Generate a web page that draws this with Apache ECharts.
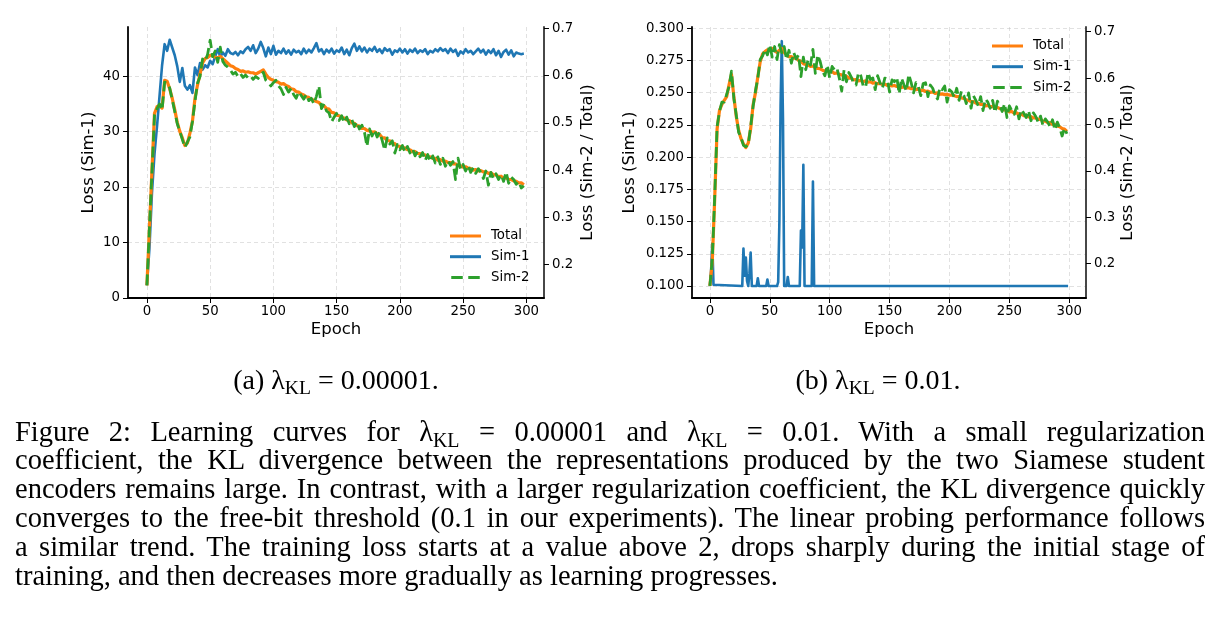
<!DOCTYPE html>
<html><head><meta charset="utf-8">
<script src="https://cdn.jsdelivr.net/npm/echarts@6/dist/echarts.min.js"></script>
<style>
html,body{margin:0;padding:0;background:#fff;}
#wrap{position:relative;width:1220px;height:626px;overflow:hidden;background:#fff;}
#chart{position:absolute;left:0;top:0;width:1220px;height:626px;}
.cap{position:absolute;font-family:'Liberation Serif','Times New Roman',serif;color:#000;}
.subcap{font-size:28px;line-height:28px;top:366px;white-space:nowrap;transform:translateX(-50%);}
#para{left:15px;top:417.6px;width:1190px;font-size:28.5px;line-height:28.8px;}
#para div{text-align:justify;text-align-last:justify;white-space:nowrap;height:28.8px;}
#para div.last{text-align-last:left;}
.kl{font-size:70%;vertical-align:-0.28em;line-height:0;}
</style></head>
<body>
<div id="wrap">
<div id="chart"></div>
<div class="cap subcap" style="left:336px">(a) λ<span class="kl">KL</span> = 0.00001.</div>
<div class="cap subcap" style="left:878px">(b) λ<span class="kl">KL</span> = 0.01.</div>
<div class="cap" id="para">
<div>Figure 2: Learning curves for λ<span class="kl">KL</span> = 0.00001 and λ<span class="kl">KL</span> = 0.01. With a small regularization</div>
<div>coefficient, the KL divergence between the representations produced by the two Siamese student</div>
<div>encoders remains large. In contrast, with a larger regularization coefficient, the KL divergence quickly</div>
<div>converges to the free-bit threshold (0.1 in our experiments). The linear probing performance follows</div>
<div>a similar trend. The training loss starts at a value above 2, drops sharply during the initial stage of</div>
<div class="last">training, and then decreases more gradually as learning progresses.</div>
</div>
</div>
<script>
// ---------- data ----------
const epochs = [0,2,4,6,8,10,12,14,16,18,
20,22,24,26,28,30,32,34,36,38,
40,42,44,46,48,50,52,54,56,58,
60,62,64,66,68,70,72,74,76,78,
80,82,84,86,88,90,92,94,96,98,
100,102,104,106,108,110,112,114,116,118,
120,122,124,126,128,130,132,134,136,138,
140,142,144,146,148,150,152,154,156,158,
160,162,164,166,168,170,172,174,176,178,
180,182,184,186,188,190,192,194,196,198,
200,202,204,206,208,210,212,214,216,218,
220,222,224,226,228,230,232,234,236,238,
240,242,244,246,248,250,252,254,256,258,
260,262,264,266,268,270,272,274,276,278,
280,282,284,286,288,290,292,294,296,298];

// (a) lambda_KL = 0.00001
const sim1A = [2.3,9.0,19.0,26.0,31.0,36.5,42.0,45.8,44.6,46.6,
45.2,43.8,41.8,39.0,41.5,38.3,37.6,38.4,37.0,41.6,
40.2,42.4,41.2,42.0,41.6,42.8,42.2,43.6,44.9,43.5,
44.3,43.7,44.9,44.2,44.0,44.4,43.8,44.5,44.2,44.9,
45.3,44.6,45.6,44.2,45.0,46.2,45.1,43.6,45.2,44.0,
45.5,43.9,44.6,44.2,45.0,44.1,44.7,43.9,44.8,44.3,
44.6,44.0,45.0,44.2,44.8,44.3,45.1,46.0,44.5,44.9,
44.0,44.8,44.3,45.0,44.1,44.7,44.4,45.2,44.0,44.8,
43.8,45.1,45.9,44.6,45.4,44.5,45.2,44.3,45.0,44.6,
45.3,44.4,44.9,44.2,45.1,44.6,44.9,43.9,44.7,44.4,
45.0,44.3,44.9,44.1,44.8,44.4,45.0,44.2,44.7,44.4,
44.9,44.0,44.6,44.3,44.9,44.5,45.1,44.6,44.9,44.2,
45.0,44.4,44.8,43.7,44.5,44.1,44.9,44.3,44.6,44.0,
44.5,45.0,44.3,44.8,43.9,44.7,44.2,44.9,43.8,44.6,
43.5,44.4,44.8,43.9,44.7,43.6,44.3,44.1,44.0,44.1];
const totalA = [0.156,0.277,0.400,0.520,0.534,0.537,0.531,0.590,0.588,0.572,
0.552,0.528,0.501,0.482,0.468,0.452,0.457,0.478,0.503,0.552,
0.580,0.603,0.627,0.636,0.638,0.643,0.642,0.639,0.637,0.641,
0.636,0.631,0.626,0.621,0.619,0.615,0.613,0.609,0.610,0.607,
0.608,0.606,0.606,0.603,0.606,0.609,0.612,0.603,0.596,0.592,
0.590,0.587,0.586,0.582,0.583,0.579,0.577,0.572,0.571,0.566,
0.565,0.561,0.559,0.555,0.554,0.549,0.548,0.545,0.543,0.537,
0.536,0.530,0.529,0.522,0.521,0.516,0.515,0.511,0.510,0.506,
0.505,0.500,0.499,0.494,0.493,0.488,0.488,0.484,0.483,0.480,
0.481,0.477,0.475,0.469,0.468,0.462,0.462,0.457,0.456,0.451,
0.450,0.446,0.447,0.443,0.443,0.439,0.439,0.435,0.435,0.432,
0.432,0.428,0.428,0.425,0.425,0.421,0.422,0.419,0.419,0.416,
0.416,0.413,0.413,0.410,0.409,0.406,0.407,0.404,0.403,0.400,
0.401,0.398,0.399,0.396,0.396,0.393,0.394,0.390,0.390,0.386,
0.387,0.383,0.384,0.380,0.380,0.377,0.376,0.373,0.373,0.369];
const sim2A = [0.156,0.279,0.398,0.516,0.530,0.540,0.527,0.586,0.584,0.574,
0.549,0.524,0.498,0.482,0.465,0.448,0.459,0.470,0.503,0.545,
0.584,0.598,0.635,0.630,0.645,0.675,0.640,0.652,0.628,0.660,
0.630,0.622,0.618,0.612,0.603,0.607,0.598,0.604,0.596,0.601,
0.595,0.599,0.592,0.598,0.594,0.603,0.607,0.590,0.585,0.578,
0.585,0.590,0.578,0.572,0.560,0.575,0.565,0.573,0.560,0.552,
0.566,0.558,0.550,0.560,0.547,0.552,0.540,0.556,0.578,0.530,
0.540,0.525,0.521,0.502,0.512,0.520,0.505,0.515,0.500,0.512,
0.498,0.507,0.492,0.502,0.487,0.495,0.480,0.450,0.487,0.472,
0.485,0.470,0.480,0.463,0.442,0.468,0.455,0.462,0.436,0.454,
0.443,0.452,0.438,0.450,0.436,0.445,0.430,0.440,0.428,0.437,
0.420,0.433,0.418,0.430,0.415,0.428,0.412,0.425,0.408,0.420,
0.410,0.418,0.380,0.425,0.402,0.412,0.398,0.410,0.395,0.405,
0.393,0.403,0.395,0.382,0.398,0.368,0.395,0.382,0.392,0.380,
0.390,0.376,0.396,0.372,0.385,0.380,0.370,0.376,0.362,0.367];

// (b) lambda_KL = 0.01
const sim1BEpochs = [0,1,2,3,4,27,28,29,30,31,32,33,34,35,39,40,41,47,48,49,56,57,58,59,60,61,62,64,65,66,75,76,77,78,79,85,86,87,299];
const sim1B = [0.100,0.112,0.133,0.101,0.100,0.100,0.129,0.108,0.122,0.104,0.100,0.110,0.126,0.100,0.100,0.106,0.100,0.100,0.105,0.100,0.100,0.103,0.150,0.240,0.290,0.230,0.100,0.100,0.107,0.100,0.100,0.143,0.130,0.194,0.100,0.100,0.181,0.100,0.100];
const totalB = [0.152,0.205,0.340,0.490,0.530,0.543,0.552,0.560,0.586,0.608,
0.560,0.517,0.487,0.469,0.458,0.450,0.460,0.490,0.541,0.568,
0.603,0.635,0.652,0.657,0.661,0.659,0.664,0.659,0.655,0.660,
0.664,0.655,0.650,0.646,0.646,0.643,0.643,0.638,0.636,0.631,
0.629,0.628,0.625,0.626,0.622,0.621,0.620,0.617,0.615,0.616,
0.613,0.614,0.610,0.611,0.608,0.607,0.604,0.604,0.600,0.600,
0.596,0.597,0.594,0.595,0.592,0.594,0.591,0.592,0.589,0.590,
0.588,0.588,0.586,0.587,0.584,0.585,0.583,0.584,0.582,0.583,
0.580,0.581,0.579,0.579,0.577,0.577,0.575,0.576,0.573,0.574,
0.571,0.572,0.569,0.570,0.567,0.568,0.565,0.566,0.564,0.565,
0.563,0.563,0.562,0.560,0.560,0.557,0.556,0.553,0.552,0.549,
0.549,0.546,0.546,0.543,0.543,0.540,0.541,0.538,0.539,0.536,
0.537,0.534,0.534,0.531,0.530,0.527,0.528,0.524,0.525,0.522,
0.522,0.519,0.520,0.516,0.517,0.514,0.514,0.511,0.511,0.507,
0.507,0.504,0.504,0.500,0.500,0.496,0.495,0.491,0.490,0.485];
const sim2B = [0.152,0.210,0.345,0.495,0.528,0.548,0.548,0.565,0.582,0.615,
0.556,0.520,0.483,0.472,0.455,0.452,0.456,0.495,0.538,0.572,
0.600,0.640,0.648,0.662,0.650,0.672,0.645,0.668,0.640,0.672,
0.655,0.668,0.640,0.660,0.632,0.655,0.641,0.650,0.603,0.645,
0.618,0.640,0.628,0.662,0.610,0.650,0.636,0.615,0.605,0.628,
0.600,0.625,0.618,0.622,0.600,0.572,0.618,0.592,0.612,0.602,
0.588,0.585,0.612,0.605,0.582,0.580,0.612,0.597,0.600,0.575,
0.605,0.590,0.578,0.600,0.598,0.570,0.596,0.592,0.602,0.566,
0.600,0.585,0.572,0.608,0.590,0.568,0.590,0.582,0.562,0.588,
0.590,0.560,0.585,0.578,0.562,0.555,0.580,0.575,0.583,0.548,
0.575,0.570,0.558,0.578,0.552,0.572,0.562,0.545,0.568,0.535,
0.562,0.552,0.540,0.560,0.530,0.555,0.548,0.535,0.552,0.526,
0.550,0.540,0.528,0.545,0.515,0.540,0.530,0.522,0.538,0.512,
0.532,0.524,0.515,0.530,0.508,0.525,0.517,0.505,0.518,0.498,
0.512,0.505,0.495,0.510,0.488,0.505,0.493,0.475,0.492,0.480];

// tick labels
const xTicks = [0,50,100,150,200,250,300];
const yTicksA1 = [0,10,20,30,40];
const yTicksA2 = [0.2,0.3,0.4,0.5,0.6,0.7];
const yTicksB1 = [0.1,0.125,0.15,0.175,0.2,0.225,0.25,0.275,0.3];
const yTicksB2 = [0.2,0.3,0.4,0.5,0.6,0.7];
const legendNames = ['Total','Sim-1','Sim-2'];

// ---------- chart ----------
const FONT = 'DejaVu Sans';
const C_TOTAL = '#ff7f0e', C_SIM1 = '#1f77b4', C_SIM2 = '#2ca02c';
const ICON_SOLID = 'path://M0,0H31V3H0Z';
const ICON_DASH = 'path://M0,0H11.5V3H0Z M17,0H28.5V3H17Z';
const pairs = (xs, ys) => xs.map((x, i) => [x, ys[i]]);
const gridLine = {show:true, lineStyle:{color:'rgba(170,170,170,0.45)', width:0.8, type:[4,3]}};
const tickStyle = {show:true, inside:false, length:5, lineStyle:{color:'#000', width:1}};
const labelStyle = {color:'#000', fontFamily:FONT, fontSize:13.3};

function xAxis(gi){
  return {gridIndex:gi, type:'value', min:-14.95, max:313.95,
    axisLine:{show:true, onZero:false, lineStyle:{color:'#000', width:1.8}},
    axisTick:Object.assign({customValues:xTicks}, tickStyle),
    axisLabel:Object.assign({customValues:xTicks, margin:7, formatter:v=>String(v)}, labelStyle),
    splitLine:gridLine,
    name:'Epoch', nameLocation:'middle', nameGap:32,
    nameTextStyle:{color:'#000', fontFamily:FONT, fontSize:16.5, verticalAlign:'middle'}};
}
function yAxis(gi, pos, min, max, ticks, dec, name, gap, split, lineColor){
  return {gridIndex:gi, type:'value', position:pos, min:min, max:max,
    axisLine:{show:true, onZero:false, lineStyle:{color:lineColor, width:1.8}},
    axisTick:Object.assign({customValues:ticks}, tickStyle),
    axisLabel:Object.assign({customValues:ticks, margin:8, formatter:v=>v.toFixed(dec)}, labelStyle),
    splitLine:split ? gridLine : {show:false},
    name:name, nameLocation:'middle', nameGap:gap, nameRotate:90,
    nameTextStyle:{color:'#000', fontFamily:FONT, fontSize:16.5, verticalAlign:'middle', align:'center'}};
}
function line(name, xi, yi, data, color, width, dashed){
  return {name:name, type:'line', xAxisIndex:xi, yAxisIndex:yi, data:data,
    showSymbol:false, symbol:'none', silent:true, color:color,
    lineStyle:{color:color, width:width, type:dashed ? [11,5] : 'solid', cap:'butt', join:'round'}};
}
function legend(left, top){
  return {data:[
      {name:'Total', icon:ICON_SOLID},
      {name:'Sim-1', icon:ICON_SOLID},
      {name:'Sim-2', icon:ICON_DASH}],
    orient:'vertical', left:left, top:top, padding:0,
    itemWidth:31, itemHeight:3, itemGap:6.7, selectedMode:false,
    itemStyle:{borderWidth:0}, lineStyle:{width:0},
    textStyle:{color:'#000', fontFamily:FONT, fontSize:13.3, lineHeight:14, padding:[0,0,0,5]}};
}

const option = {
  animation:false,
  backgroundColor:'#fff',
  grid:[
    {left:128, top:27, width:416, height:271},
    {left:692, top:27, width:394, height:271}
  ],
  xAxis:[xAxis(0), xAxis(1)],
  yAxis:[
    yAxis(0,'left', 0, 48.9, yTicksA1, 0, 'Loss (Sim-1)', 39, true, '#000'),
    yAxis(0,'right', 0.1292, 0.7028, yTicksA2, 1, 'Loss (Sim-2 / Total)', 44, false, '#333'),
    yAxis(1,'left', 0.0907, 0.301, yTicksB1, 3, 'Loss (Sim-1)', 62, true, '#000'),
    yAxis(1,'right', 0.1257, 0.7101, yTicksB2, 1, 'Loss (Sim-2 / Total)', 41, false, '#333')
  ],
  legend:[legend(450, 229), legend(992, 39)],
  series:[
    line('Sim-1', 0, 0, pairs(epochs, sim1A), C_SIM1, 2.6, false),
    line('Total', 0, 1, pairs(epochs, totalA), C_TOTAL, 3.2, false),
    line('Sim-2', 0, 1, pairs(epochs, sim2A), C_SIM2, 2.8, true),
    line('Sim-1', 1, 2, pairs(sim1BEpochs, sim1B), C_SIM1, 2.6, false),
    line('Total', 1, 3, pairs(epochs, totalB), C_TOTAL, 3.2, false),
    line('Sim-2', 1, 3, pairs(epochs, sim2B), C_SIM2, 2.8, true)
  ]
};
const chart = echarts.init(document.getElementById('chart'), null, {renderer:'canvas'});
chart.setOption(option);
</script>
</body></html>
